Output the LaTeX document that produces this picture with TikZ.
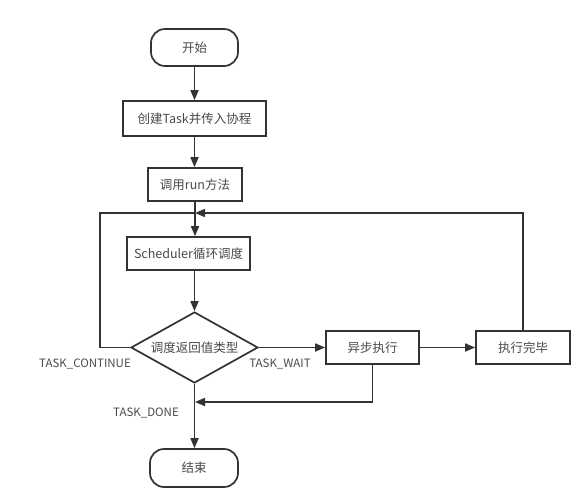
\documentclass[tikz,border=0pt]{standalone}
\usepackage{fontspec}
\setmainfont{Noto Sans CJK SC}
\usetikzlibrary{arrows.meta,shapes.geometric}
\definecolor{ln}{HTML}{333333}
\definecolor{tx}{HTML}{4a4a4a}
\tikzset{
  base/.style={draw=ln, line width=1.7pt, text=tx, font=\fontsize{12.5}{14}\selectfont, inner sep=0pt, fill=white},
  procbox/.style={base, rectangle, minimum height=33pt},
  termbox/.style={base, rectangle, rounded corners=14pt, minimum width=87pt, minimum height=37pt},
  decbox/.style={base, diamond, minimum width=127pt, minimum height=71pt, aspect=1.79},
  conn/.style={draw=ln, line width=1.7pt},
  arr/.style={conn, -{Triangle[length=10pt,width=8pt]}},
  lbl/.style={text=tx, font=\fontsize{11.5}{13}\selectfont, inner sep=0pt}
}
\begin{document}
\begin{tikzpicture}[x=1pt,y=-1pt]
\useasboundingbox (0,0) rectangle (588,500);
\fill[white] (0,0) rectangle (588,500);
\node[termbox] (start) at (194.5,47.5) {开始};
\node[procbox, minimum width=143pt, minimum height=35pt] (create) at (194.5,118.5) {创建Task并传入协程};
\node[procbox, minimum width=94pt] (run) at (195,184.5) {调用run方法};
\node[procbox, minimum width=123pt] (sched) at (188.5,253.5) {Scheduler循环调度};
\node[decbox] (dec) at (194.5,347.5) {调度返回值类型};
\node[procbox, minimum width=93pt] (async) at (372.5,347.5) {异步执行};
\node[procbox, minimum width=94pt] (fin) at (523,347.5) {执行完毕};
\node[termbox, minimum width=88pt, minimum height=38pt] (end) at (194,468) {结束};
\coordinate (loopJ) at (195,213);
\coordinate (loopL) at (100,213);
\coordinate (doneJ) at (195,402);
\node[lbl] (lcont) at (85,364) {TASK\_CONTINUE};
\node[lbl] (lwait) at (280,364) {TASK\_WAIT};
\node[lbl] (ldone) at (146,413) {TASK\_DONE};
\draw[arr] (start.south) -- (start.south |- create.north);
\draw[arr] (create.south) -- (create.south |- run.north);
\draw[arr] (run.south) -- (run.south |- sched.north);
\draw[arr] (sched.south -| dec.north) -- (dec.north);
\draw[conn] (dec.west) -| (loopL) -- (loopJ);
\draw[arr] (fin.north) |- (loopJ);
\draw[arr] (dec.east) -- (async.west);
\draw[arr] (async.east) -- (fin.west);
\draw[arr] (async.south) |- (doneJ);
\draw[arr] (dec.south) -- (dec.south |- end.north);
\end{tikzpicture}
\end{document}
